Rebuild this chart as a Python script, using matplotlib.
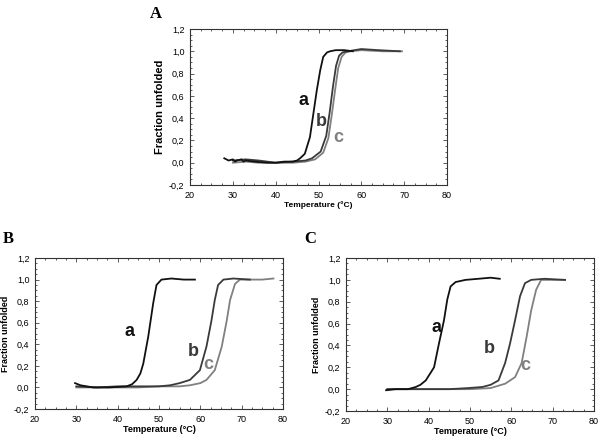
import matplotlib
matplotlib.use('Agg')
import matplotlib.pyplot as plt
from matplotlib.ticker import MultipleLocator, FuncFormatter

# Panel A
A_a_T = [28, 29, 30, 30.5, 31, 32, 32.5, 33, 35, 38, 40, 42, 44, 45, 45.7, 46.8, 48.0, 48.8, 49.6, 50.4, 51.1, 52.0, 52.7, 54, 56, 58]
A_a_F = [0.04, 0.02, 0.03, 0.01, 0.02, 0.03, 0.01, 0.02, 0.01, 0.0, 0.0, 0.01, 0.01, 0.02, 0.04, 0.08, 0.23, 0.44, 0.65, 0.83, 0.95, 0.99, 1.0, 1.01, 1.01, 1.0]
A_b_T = [30, 33, 36, 40, 44, 47, 48.5, 50.5, 51.8, 52.6, 53.4, 54.1, 54.8, 55.6, 56.8, 60, 64, 69]
A_b_F = [0.02, 0.03, 0.02, 0.0, 0.01, 0.02, 0.04, 0.10, 0.24, 0.45, 0.69, 0.87, 0.96, 0.99, 1.0, 1.02, 1.01, 1.0]
A_c_T = [30, 33, 36, 40, 44, 47, 49.2, 51.1, 52.3, 53.1, 53.9, 54.6, 55.4, 56.3, 57.5, 60, 65, 69.5]
A_c_F = [0.0, 0.01, 0.0, 0.0, 0.0, 0.01, 0.03, 0.09, 0.22, 0.43, 0.66, 0.85, 0.95, 0.99, 1.0, 1.01, 1.0, 1.0]

# Panel B
B_a_T = [29.7, 31, 34.1, 38, 42.2, 43.5, 44.6, 45.5, 46.2, 47.4, 48.6, 49.4, 50.6, 53, 56, 58.7]
B_a_F = [0.04, 0.02, 0.0, 0.0, 0.01, 0.03, 0.07, 0.13, 0.22, 0.47, 0.78, 0.95, 1.0, 1.01, 1.0, 1.0]
B_b_T = [30, 35, 40, 45, 50, 52.7, 55, 57.5, 59.9, 61.5, 62.7, 63.5, 64.3, 65.6, 68, 72]
B_b_F = [0.01, 0.0, 0.01, 0.01, 0.01, 0.02, 0.04, 0.07, 0.16, 0.38, 0.62, 0.81, 0.95, 1.0, 1.01, 1.0]
B_c_T = [30, 35, 40, 45, 50, 55, 57.5, 60, 61.5, 63.5, 65.2, 66.4, 67.2, 68.4, 69.6, 72, 75, 77.7]
B_c_F = [0.0, 0.0, 0.0, 0.0, 0.01, 0.01, 0.02, 0.04, 0.07, 0.16, 0.38, 0.62, 0.81, 0.96, 1.0, 1.0, 1.0, 1.01]

# Panel C
C_a_T = [29.7, 32, 35, 36.9, 38, 39.3, 41.3, 42.5, 43.7, 44.5, 45.3, 46.5, 48.9, 52, 55, 57.2]
C_a_F = [-0.01, 0.0, 0.0, 0.02, 0.04, 0.08, 0.20, 0.42, 0.63, 0.82, 0.94, 0.98, 1.0, 1.01, 1.02, 1.01]
C_b_T = [30, 35, 40, 45, 49.6, 53, 55, 56.9, 58.5, 59.7, 60.9, 62.1, 63.3, 64.8, 68, 73]
C_b_F = [0.0, 0.0, 0.0, 0.0, 0.01, 0.02, 0.04, 0.08, 0.24, 0.42, 0.63, 0.85, 0.97, 1.0, 1.01, 1.0]
C_c_T = [30, 35, 40, 45, 50, 55, 58.5, 60.9, 62.5, 63.7, 64.8, 66.0, 67.2, 70, 73]
C_c_F = [0.0, 0.0, 0.0, 0.0, 0.0, 0.01, 0.05, 0.11, 0.24, 0.48, 0.72, 0.91, 1.0, 1.0, 1.0]

panels = {
    'A': ([A_a_T, A_b_T, A_c_T], [A_a_F, A_b_F, A_c_F], [(46.6, 0.56), (50.7, 0.37), (54.6, 0.23)]),
    'B': ([B_a_T, B_b_T, B_c_T], [B_a_F, B_b_F, B_c_F], [(42.8, 0.52), (58.3, 0.33), (61.9, 0.21)]),
    'C': ([C_a_T, C_b_T, C_c_T], [C_a_F, C_b_F, C_c_F], [(41.8, 0.56), (54.6, 0.37), (63.3, 0.22)]),
}
curve_names = ['a', 'b', 'c']
colors = ['#111111', '#3a3a3a', '#808080']

plt.rcParams['font.family'] = ['Liberation Sans', 'DejaVu Sans']

fig = plt.figure(figsize=(6, 4.38), dpi=100)
rects = {
    'A': [0.3167, 0.5776, 0.4283, 0.3562],
    'B': [0.0583, 0.0662, 0.4133, 0.3447],
    'C': [0.5767, 0.0616, 0.4133, 0.3493],
}
letter_pos = {'A': (0.25, 0.967), 'B': (0.005, 0.455), 'C': (0.507, 0.455)}
xlab_size = {'A': 6, 'B': 6.5, 'C': 6.5}
ylab_size = {'A': 8, 'B': 6.5, 'C': 6.5}

comma = FuncFormatter(lambda v, p: ('%.1f' % v).replace('.', ','))

for key in ['A', 'B', 'C']:
    ax = fig.add_axes(rects[key])
    Ts, Fs, lab = panels[key]
    for T, F, col in zip(Ts[::-1], Fs[::-1], colors[::-1]):
        ax.plot(T, F, color=col, lw=1.3)
    for (x, y), name, col in zip(lab, curve_names, colors):
        ax.text(x, y, name, color=col, fontsize=13, fontweight='bold',
                ha='center', va='center')
    ax.set_xlim(20, 80)
    ax.set_ylim(-0.2, 1.2)
    ax.xaxis.set_major_locator(MultipleLocator(10))
    ax.xaxis.set_minor_locator(MultipleLocator(2.5))
    ax.yaxis.set_major_locator(MultipleLocator(0.2))
    ax.yaxis.set_minor_locator(MultipleLocator(0.05))
    ax.yaxis.set_major_formatter(comma)
    ax.tick_params(which='both', direction='in', top=True, right=True,
                   labelsize=6.5, color='#444444', width=0.6)
    ax.tick_params(which='major', length=3, pad=4)
    ax.tick_params(which='minor', length=1.5)
    for s in ax.spines.values():
        s.set_linewidth(0.8)
        s.set_color('#333333')
    ax.set_xlabel('Temperature (°C)', fontsize=xlab_size[key], fontweight='bold', labelpad=1)
    ax.set_ylabel('Fraction unfolded', fontsize=ylab_size[key], fontweight='bold', labelpad=3)
    fig.text(letter_pos[key][0], letter_pos[key][1], key, fontsize=12,
             fontweight='bold', family='Liberation Serif', va='center')

fig.savefig('out.png', dpi=100)
